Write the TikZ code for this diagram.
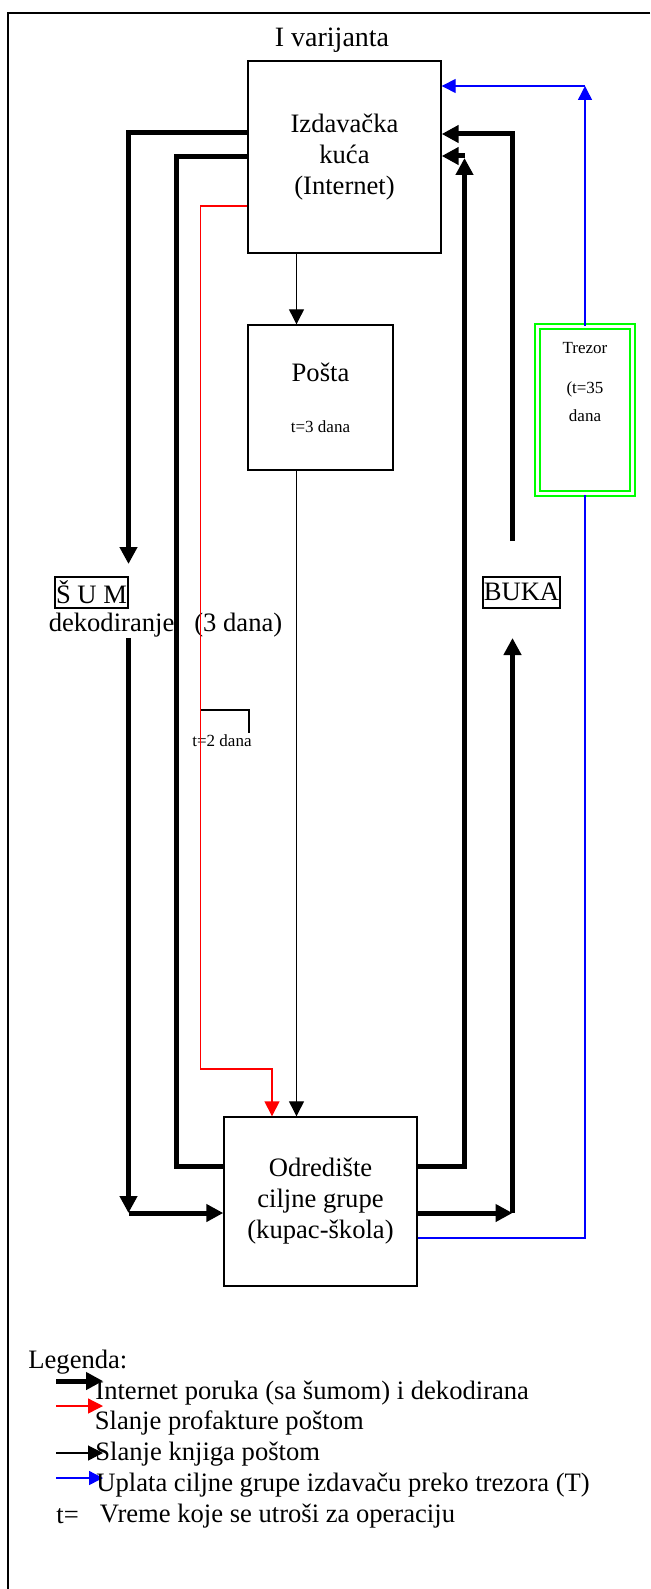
\documentclass[tikz,border=0pt]{standalone}
\usepackage{fontspec}
\setmainfont{Liberation Serif}
\usetikzlibrary{arrows.meta,positioning}
\definecolor{pureblue}{RGB}{0,0,255}
\definecolor{purered}{RGB}{255,0,0}
\definecolor{puregreen}{RGB}{0,255,0}
\tikzset{
  block/.style={draw=black,line width=0.7pt,align=center,inner sep=1pt,
                font=\fontsize{13.3}{15.5}\selectfont},
  plain/.style={inner sep=0pt,font=\fontsize{13.3}{15.5}\selectfont},
  note/.style={inner sep=0pt,align=center,font=\fontsize{8.5}{10}\selectfont},
  heavyline/.style={draw=black,line width=2.5pt},
  heavy/.style={heavyline,-{Triangle[length=8.5pt,width=8.5pt]}},
  thinline/.style={draw=black,line width=0.6pt},
  thinarrow/.style={thinline,-{Triangle[length=7.5pt,width=7.5pt]}},
  redarrow/.style={-{Triangle[length=7.5pt,width=7.5pt]},draw=purered,line width=0.7pt},
  blueline/.style={draw=pureblue,line width=0.7pt},
  bluearrow/.style={blueline,-{Triangle[length=7pt,width=7pt]}}
}
\begin{document}
\begin{tikzpicture}[x=0.5pt,y=-0.5pt,
  house/.style={block,minimum width=96.5pt,minimum height=96pt},
  office/.style={block,minimum width=72.5pt,minimum height=72.5pt},
  target/.style={block,minimum width=96.5pt,minimum height=84.5pt},
  vault/.style={draw=puregreen,line width=1pt,double=white,double distance=1.5pt,
                minimum width=47.5pt,minimum height=83.5pt,inner sep=0pt},
  tag/.style={block,line width=1pt,inner xsep=0.6pt,minimum height=15.5pt}
]
  \useasboundingbox (0,0) rectangle (650,1589);
  \draw[line width=0.7pt] (650,13) -- (8,13) -- (8,1589);

  % main blocks
  \node[plain,font=\fontsize{14}{16}\selectfont] (title) at (332,40) {I varijanta};
  \node[house] (izd) at (344.5,157) {Izdavačka\\kuća\\(Internet)};
  \node[office] (posta) at (320.5,397.5)
    {Pošta\\[10pt]{\fontsize{8.5}{10}\selectfont t=3 dana}};
  \node[vault] (trezor) at (585,410) {};
  \node[note,below=8pt of trezor.north] (trezortext) {Trezor\\[10pt](t=35\\[4pt]dana};
  \node[target] (odr) at (320.5,1201.5) {Odredište\\ciljne grupe\\(kupac-škola)};
  \node[tag] (sum) at (91.5,592) {Š U M};
  \node[tag] (buka) at (521.5,592) {BUKA};
  \node[plain] (dekod) at (165.5,625) {dekodiranje\hspace{10pt}(3 dana)};
  \node[note] (t2) at (222,741) {t=2 dana};

  % bends
  \coordinate (ol) at (128.5,133);
  \coordinate (sumin) at (128.5,564);
  \coordinate (dekout) at (128.5,638);
  \coordinate (olb) at (128.5,1213);
  \coordinate (il) at (176.5,157);
  \coordinate (ilb) at (176.5,1166);
  \coordinate (rd) at (200.5,206);
  \coordinate (rdb) at (200.5,1069);
  \coordinate (rdc) at (272,1069);
  \coordinate (kn) at (296.5,300);
  \coordinate (ir) at (464.5,1166);
  \coordinate (irt) at (464.5,158);
  \coordinate (irl) at (464.5,156);
  \coordinate (orb) at (512.5,1213);
  \coordinate (bukain) at (512.5,638);
  \coordinate (bukaout) at (512.5,541);
  \coordinate (ort) at (512.5,134);
  \coordinate (bl) at (585,1238);
  \coordinate (blt) at (585,86);
  \coordinate (brk) at (249,710);
  \coordinate (brkb) at (249,733);

  % internet message, noise and decoding
  \draw[heavy] (izd.west |- ol) -- (ol) -- (sumin);
  \draw[heavy] (dekout) -- (olb);
  \draw[heavy] (olb) -- (odr.west |- olb);
  \draw[heavyline] (izd.west |- il) -- (il) -- (ilb) -- (odr.west |- ilb);
  \draw[heavy] (odr.east |- ir) -- (ir) -- (irt);
  \draw[heavy] (irl) -- (izd.east |- irl);
  \draw[heavy] (odr.east |- orb) -- (orb);
  \draw[heavy] (orb) -- (bukain);
  \draw[heavy] (bukaout) -- (ort) -- (izd.east |- ort);

  % invoice and books by mail
  \draw[redarrow] (izd.west |- rd) -- (rd) -- (rdb) -- (rdc) -- (rdc |- odr.north);
  \draw[thinline] (rdb |- brk) -- (brk) -- (brkb);
  \draw[thinarrow] (izd.south -| kn) -- (posta.north -| kn);
  \draw[thinarrow] (posta.south -| kn) -- (odr.north -| kn);

  % payment via treasury
  \draw[blueline] (odr.east |- bl) -- (bl) -- (trezor.south);
  \draw[bluearrow] (trezor.north) -- (blt);
  \draw[bluearrow] (blt) -- (izd.east |- blt);

  % legend
  \node[plain,anchor=west] (legend) at (28,1362) {Legenda:};
  \foreach \i/\y/\kind in {1/1381/heavy,2/1406/redarrow,3/1453/thinarrow,4/1478/bluearrow}{
    \coordinate (ls\i) at (56,\y);
    \coordinate (le\i) at (103,\y);
    \draw[\kind] (ls\i) -- (le\i);
  }
  \node[plain,anchor=west] (lg1) at (95,1393) {Internet poruka (sa šumom) i dekodirana};
  \node[plain,anchor=west] (lg2) at (94.5,1423) {Slanje profakture poštom};
  \node[plain,anchor=west] (lg3) at (95,1454) {Slanje knjiga poštom};
  \node[plain,anchor=west] (lg4) at (96,1485) {Uplata ciljne grupe izdavaču preko trezora (T)};
  \node[plain,anchor=west] (lgt) at (56,1516) {t=};
  \node[plain,anchor=west] (lg5) at (99.5,1516) {Vreme koje se utroši za operaciju};
\end{tikzpicture}
\end{document}
